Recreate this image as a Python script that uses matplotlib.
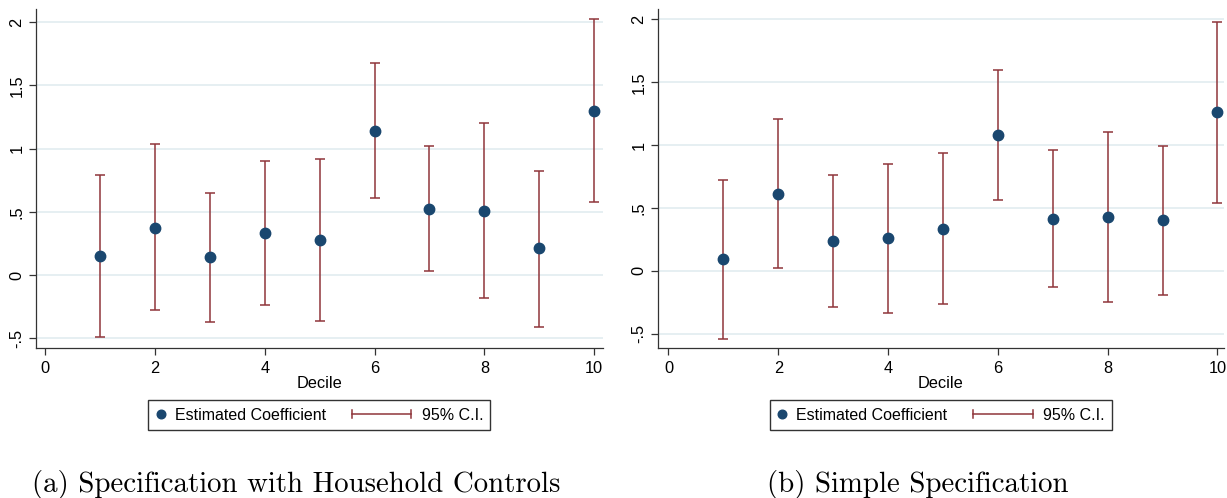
import matplotlib
matplotlib.use("Agg")
import matplotlib.pyplot as plt
from matplotlib.lines import Line2D
import numpy as np

# Decile regressions: point estimates and 95% CI bounds
DECILES = [1, 2, 3, 4, 5, 6, 7, 8, 9, 10]

COEF_A = [0.15, 0.375, 0.14, 0.33, 0.28, 1.14, 0.525, 0.51, 0.21, 1.30]
LO_A   = [-0.49, -0.28, -0.37, -0.24, -0.36, 0.61, 0.035, -0.18, -0.41, 0.575]
HI_A   = [0.79, 1.035, 0.65, 0.90, 0.92, 1.675, 1.02, 1.20, 0.825, 2.025]

COEF_B = [0.09, 0.61, 0.24, 0.26, 0.33, 1.08, 0.41, 0.43, 0.40, 1.26]
LO_B   = [-0.54, 0.02, -0.29, -0.335, -0.265, 0.56, -0.13, -0.25, -0.19, 0.535]
HI_B   = [0.72, 1.205, 0.765, 0.85, 0.935, 1.595, 0.96, 1.105, 0.995, 1.975]

YTICKS = [-0.5, 0, 0.5, 1, 1.5, 2]
YTICK_LABELS = ["-.5", "0", ".5", "1", "1.5", "2"]
XTICKS = [0, 2, 4, 6, 8, 10]

CAPTIONS = ["(a) Specification with Household Controls", "(b) Simple Specification"]

NAVY = "#1a476f"
MAROON = "#90353b"
GRID = "#e4eef1"

plt.rcParams["font.family"] = ["Liberation Sans", "DejaVu Sans"]


class DotHandler:
    """legend dot sitting at the left of a short handle box"""
    def legend_artist(self, legend, orig_handle, fontsize, handlebox):
        x0, y0 = handlebox.xdescent, handlebox.ydescent
        h = handlebox.height
        ln = Line2D([x0 + 4], [y0 + h / 2], ls="none", marker="o", color=NAVY,
                    ms=6.2, transform=handlebox.get_transform())
        handlebox.add_artist(ln)
        return ln


class CapHandler:
    """rcap style symbol, drawn wider than the handle box (into column gap)"""
    def legend_artist(self, legend, orig_handle, fontsize, handlebox):
        x0, y0 = handlebox.xdescent, handlebox.ydescent
        w, h = handlebox.width, handlebox.height
        xb = x0 + w - 4
        xa = xb - 43
        ym = y0 + h / 2
        tr = handlebox.get_transform()
        ln = Line2D([xa, xb], [ym, ym], color=MAROON, lw=1.1, transform=tr)
        c1 = Line2D([xa, xa], [ym - 3, ym + 3], color=MAROON, lw=1.1, transform=tr)
        c2 = Line2D([xb, xb], [ym - 3, ym + 3], color=MAROON, lw=1.1, transform=tr)
        for a in (ln, c1, c2):
            handlebox.add_artist(a)
        return ln


fig = plt.figure(figsize=(12.27, 4.98), dpi=100)
W, H = 1227.0, 498.0

# axes boxes in pixels: (left, top, right, bottom)
boxes = [(35.7, 9.5, 603, 348), (657.5, 9.3, 1224, 348)]
ylims = [(-0.577, 2.10), (-0.615, 2.08)]
xlims = [(-0.17, 10.16), (-0.20, 10.12)]
series = [(COEF_A, LO_A, HI_A), (COEF_B, LO_B, HI_B)]

for i, ((l, t, r, b), (coef, lo, hi)) in enumerate(zip(boxes, series)):
    ax = fig.add_axes([l / W, 1 - b / H, (r - l) / W, (b - t) / H])
    coef = np.array(coef); lo = np.array(lo); hi = np.array(hi)
    ax.errorbar(DECILES, coef, yerr=[coef - lo, hi - coef], fmt="none",
                ecolor=MAROON, elinewidth=1.1, capsize=3.3, capthick=1.1, zorder=3)
    ax.plot(DECILES, coef, "o", color=NAVY, ms=7.5, zorder=4)

    ax.set_xlim(*xlims[i])
    ax.set_ylim(*ylims[i])
    ax.set_xticks(XTICKS)
    ax.set_yticks(YTICKS)
    ax.set_yticklabels(YTICK_LABELS, rotation=90, va="center")
    ax.tick_params(axis="both", labelsize=11.8, length=5, width=0.9, color="#333333")
    ax.tick_params(axis="y", pad=3)
    ax.tick_params(axis="x", pad=4)
    ax.yaxis.grid(True, color=GRID, lw=1.3)
    ax.set_axisbelow(True)
    for s in ["top", "right"]:
        ax.spines[s].set_visible(False)
    for s in ["left", "bottom"]:
        ax.spines[s].set_color("#333333")
        ax.spines[s].set_linewidth(0.9)
    ax.set_xlabel("Decile", fontsize=11.8, labelpad=0)

    h_dot = Line2D([], [], ls="none", marker="o", color=NAVY)
    h_ci = Line2D([], [], color=MAROON)
    ax.legend([h_dot, h_ci], ["Estimated Coefficient", "95% C.I."], ncol=2,
              loc="upper center", bbox_to_anchor=(0.5, -0.155), fontsize=11.5,
              handler_map={h_dot: DotHandler(), h_ci: CapHandler()},
              frameon=True, fancybox=False, edgecolor="#333333", framealpha=1,
              handlelength=0.9, handletextpad=0.3, columnspacing=4.8,
              borderpad=0.45, borderaxespad=0)

    cx = [296, 918][i]
    fig.text(cx / W, 1 - 484 / H, CAPTIONS[i], ha="center", va="center",
             family="cmr10", fontsize=20.8)

fig.savefig("out.png", dpi=100)
